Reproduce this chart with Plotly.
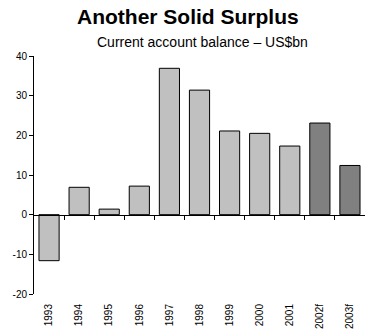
import plotly.graph_objects as go

years = ["1993", "1994", "1995", "1996", "1997", "1998", "1999", "2000", "2001", "2002f", "2003f"]
balance = [-11.6, 6.9, 1.4, 7.2, 36.9, 31.4, 21.1, 20.5, 17.3, 23.1, 12.4]
bar_colors = ["#C0C0C0"] * 9 + ["#808080"] * 2
y_ticks = [-20, -10, 0, 10, 20, 30, 40]
y_ticktext = ["-20", "-10", "0", "10", "20", "30", "40"]

idx = list(range(len(years)))
bounds = [i + 0.5 for i in idx[:-1]]

fig = go.Figure()
fig.add_trace(go.Bar(
    x=idx, y=balance,
    marker=dict(color=bar_colors, line=dict(color="black", width=1)),
    width=0.67, showlegend=False, hoverinfo="skip"
))
fig.add_trace(go.Scatter(x=[None], y=[None], xaxis="x2", showlegend=False, hoverinfo="skip"))

font = "Liberation Sans, Arial, sans-serif"
W, H, L, R, T, B = 365, 334, 34, 0, 56, 40
plot_w = W - L - R
plot_h = H - T - B

def py(pix):
    return (H - B - pix) / plot_h

def px(pix):
    return (pix - L) / plot_w

fig.update_layout(
    width=W, height=H,
    margin=dict(l=L, r=R, t=T, b=B),
    paper_bgcolor="white", plot_bgcolor="white",
    font=dict(family=font, color="black", size=10),
    xaxis=dict(range=[-0.5, 10.5], tickvals=idx, ticktext=years, tickangle=-90,
               showline=False, showgrid=False, zeroline=False, ticks="",
               ticklabelstandoff=7, tickfont=dict(size=10)),
    xaxis2=dict(range=[-0.5, 10.5], overlaying="x", anchor="free", position=1/3,
                tickvals=bounds, ticks="outside", ticklen=4, tickcolor="black",
                showticklabels=False, showline=True, linecolor="black", linewidth=1,
                showgrid=False, zeroline=False),
    yaxis=dict(range=[-20, 40], tickvals=y_ticks, ticktext=y_ticktext, ticks="outside",
               ticklen=4, tickcolor="black", showline=True, linecolor="black", linewidth=1,
               showgrid=False, zeroline=False, tickfont=dict(size=10)),
    annotations=[
        dict(text="<b>Another Solid Surplus</b>", x=px(188), xref="paper", xanchor="center",
             y=py(17), yref="paper", yanchor="middle", showarrow=False,
             font=dict(size=21, family=font)),
        dict(text="Current account balance – US$bn", x=px(202), xref="paper", xanchor="center",
             y=py(42), yref="paper", yanchor="middle", showarrow=False,
             font=dict(size=14, family=font)),
    ],
)

fig.write_html("out.html")
